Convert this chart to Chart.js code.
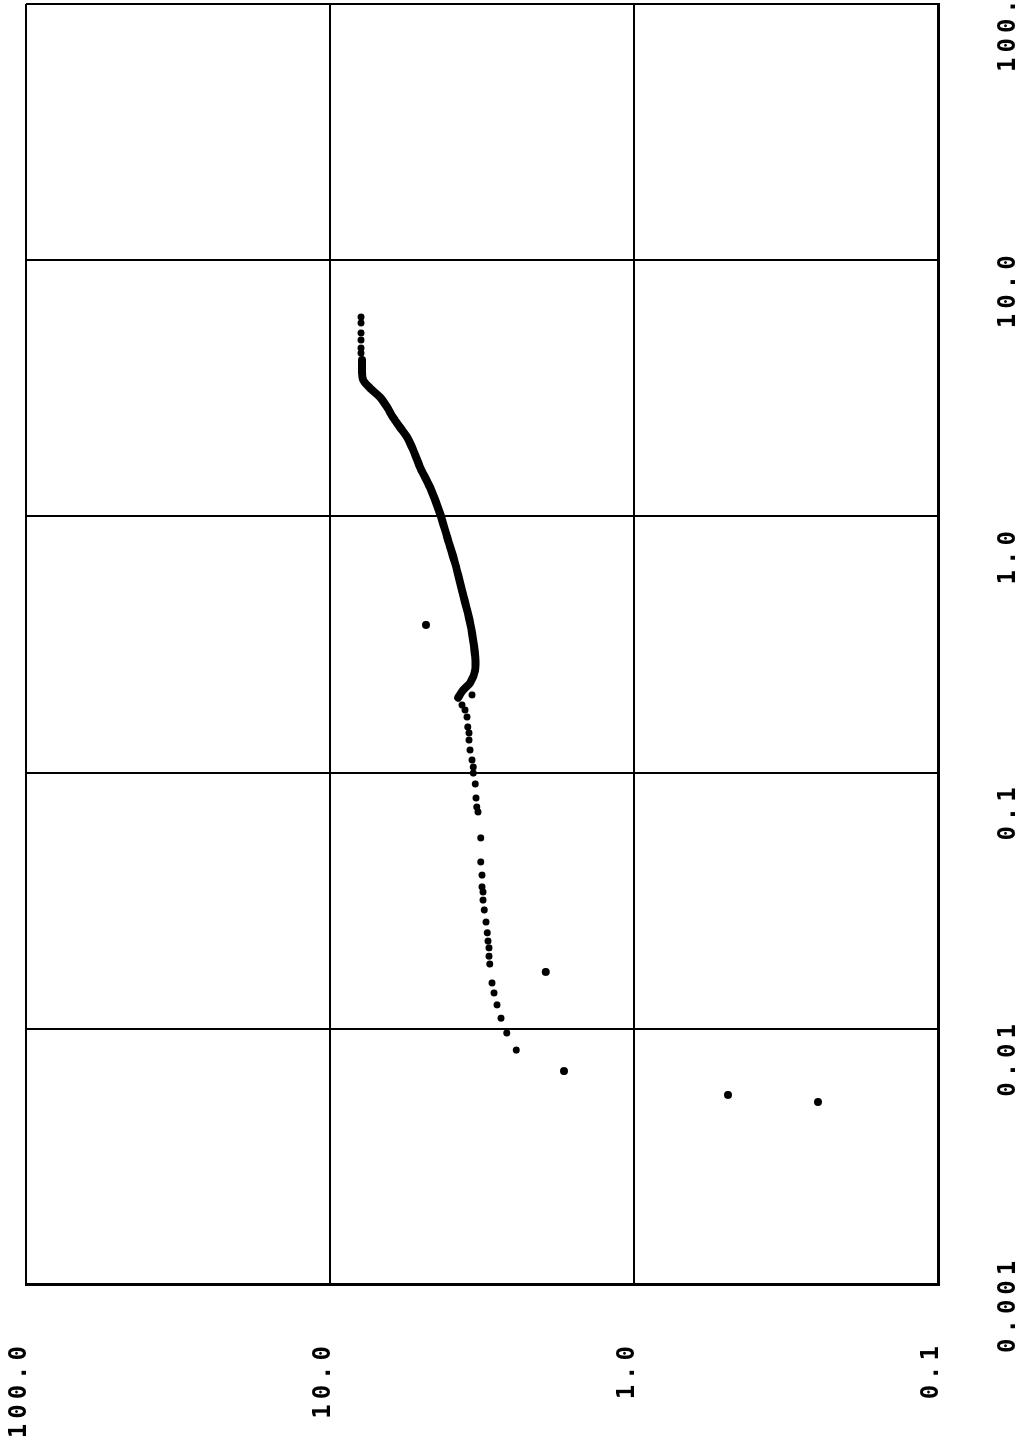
<!DOCTYPE html>
<html>
<head>
<meta charset="utf-8">
<script src="https://cdn.jsdelivr.net/npm/chart.js@4.4.0/dist/chart.umd.min.js"></script>
<style>
    html, body { margin: 0; padding: 0; background: #fff; overflow: hidden; }
    /* the plot was printed sideways: draw it upright, then turn the page */
    #page { position: absolute; left: 0; top: 0; width: 1449px; height: 1029px;
            transform-origin: 0 0; transform: translate(0, 1449px) rotate(-90deg); }
</style>
</head>
<body>
<div id="page"><canvas id="plot" width="1449" height="1029"></canvas></div>
<script>
// decade ticks
var xTicks = [0.001, 0.01, 0.1, 1, 10, 100];
var xTickLabels = ["0.001", "0.01", "0.1", "1.0", "10.0", "100.0"];
var yTicks = [0.1, 1, 10, 100];
var yTickLabels = ["0.1", "1.0", "10.0", "100.0"];

// dense part of the curve (reads as a thick line)
var denseX = [4.08, 3.73, 3.41, 3.17, 2.92, 2.67, 2.44, 2.23, 2.04, 1.82, 1.56, 1.30, 1.03,
              0.831, 0.658, 0.516, 0.420, 0.351, 0.283, 0.251, 0.224, 0.210, 0.196];
var denseY = [7.85, 7.85, 7.78, 7.39, 6.85, 6.49, 6.21, 5.89, 5.58, 5.33, 5.06, 4.69, 4.35,
              4.12, 3.88, 3.68, 3.52, 3.41, 3.33, 3.33, 3.46, 3.65, 3.79];

// separate dots above and below the dense part
var dotsX = [6.00, 5.69, 5.20, 4.88, 4.54, 4.34,
             0.201, 0.1836, 0.1755, 0.1648, 0.1507, 0.1428, 0.1340, 0.1225, 0.1120, 0.1051,
             0.0996, 0.0903, 0.0796, 0.0734, 0.0702, 0.0556, 0.0448, 0.0398, 0.0358, 0.0342,
             0.0318, 0.0291, 0.0261, 0.0237, 0.0220, 0.0207, 0.0192, 0.0179, 0.0151, 0.0138,
             0.0124, 0.0110, 0.00963, 0.00826];
var dotsY = [7.91, 7.91, 7.91, 7.91, 7.91, 7.91,
             3.41, 3.68, 3.60, 3.54, 3.52, 3.49, 3.49, 3.46, 3.41, 3.38,
             3.38, 3.33, 3.31, 3.29, 3.26, 3.19, 3.19, 3.16, 3.16, 3.14,
             3.14, 3.11, 3.07, 3.04, 3.02, 3.00, 3.00, 2.98, 2.93, 2.89,
             2.82, 2.74, 2.62, 2.44];

// stray points
var strayX = [0.377, 0.01667, 0.00684, 0.00552, 0.00518];
var strayY = [4.83, 1.95, 1.70, 0.491, 0.248];

function pairs(xs, ys) {
    return xs.map(function (v, i) { return { x: v, y: ys[i] }; });
}

function decades(list) {
    return function (axis) {
        axis.ticks = list.map(function (v) { return { value: v }; });
    };
}

var tickLabels = {
    id: 'tickLabels',
    afterDraw: function (chart) {
        var ctx = chart.ctx;
        var xs = chart.scales.x, ys = chart.scales.y;
        var area = chart.chartArea;
        ctx.save();
        ctx.fillStyle = '#000';
        ctx.font = 'bold 24px "DejaVu Sans Mono"';
        ctx.letterSpacing = '5px';
        ctx.textBaseline = 'middle';
        ctx.textAlign = 'left';
        xTicks.forEach(function (v, i) {
            ctx.fillText(xTickLabels[i], xs.getPixelForValue(v) - 68, area.bottom + 71);
        });
        yTicks.forEach(function (v, i) {
            var t = yTickLabels[i];
            var w = ctx.measureText(t).width - 5;
            ctx.fillText(t, area.left - 61 - w, ys.getPixelForValue(v) - 6);
        });
        ctx.restore();
    }
};

var ctx = document.getElementById('plot');
new Chart(ctx, {
    type: 'scatter',
    data: {
        datasets: [{
            data: pairs(denseX, denseY),
            showLine: true,
            borderColor: '#000',
            borderWidth: 8,
            borderCapStyle: 'round',
            borderJoinStyle: 'round',
            tension: 0.3,
            pointRadius: 0
        }, {
            data: pairs(dotsX, dotsY),
            backgroundColor: '#000',
            borderColor: '#000',
            pointRadius: 3.5,
            borderWidth: 0
        }, {
            data: pairs(strayX, strayY),
            backgroundColor: '#000',
            borderColor: '#000',
            pointRadius: 4,
            borderWidth: 0
        }]
    },
    options: {
        responsive: false,
        animation: false,
        layout: { padding: { left: 164, right: 3, top: 26, bottom: 91 } },
        plugins: {
            legend: { display: false },
            tooltip: { enabled: false }
        },
        scales: {
            x: {
                type: 'logarithmic',
                min: 0.001,
                max: 100,
                afterBuildTicks: decades(xTicks),
                afterFit: function (axis) { axis.height = 0; },
                ticks: { display: false },
                grid: { color: '#000', lineWidth: 2, drawTicks: false },
                border: { color: '#000', width: 3 }
            },
            y: {
                type: 'logarithmic',
                min: 0.1,
                max: 100,
                afterBuildTicks: decades(yTicks),
                afterFit: function (axis) { axis.width = 0; },
                ticks: { display: false },
                grid: { color: '#000', lineWidth: 2, drawTicks: false },
                border: { color: '#000', width: 3 }
            }
        }
    },
    plugins: [tickLabels]
});
</script>
</body>
</html>
